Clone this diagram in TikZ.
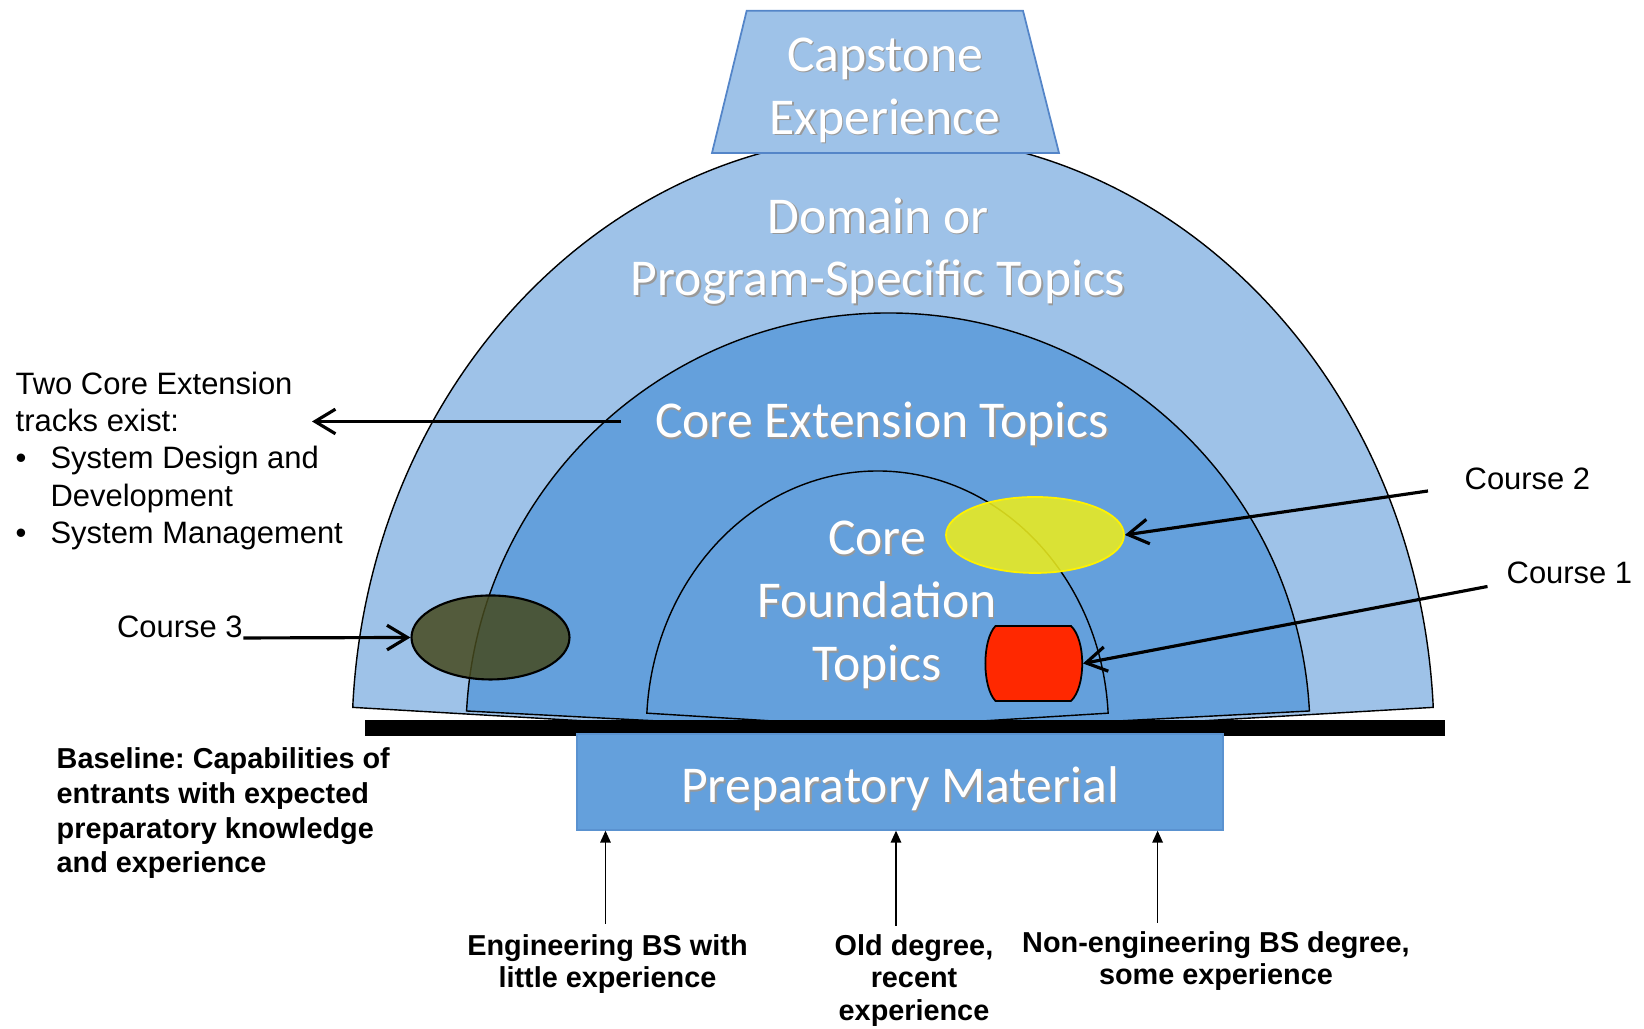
\documentclass[tikz,border=0pt]{standalone}
\usepackage{fontspec}
\setmainfont{Liberation Sans}
\newfontfamily\carlito{Carlito}
\usetikzlibrary{arrows.meta,shapes.geometric}
\frenchspacing

\definecolor{domblue}{HTML}{9EC2E8}
\definecolor{coreblue}{HTML}{64A0DC}
\definecolor{capedge}{HTML}{5485C8}
\definecolor{prepedge}{HTML}{5A92D0}
\definecolor{crsthree}{RGB}{70,74,30}
\definecolor{crstwo}{RGB}{235,236,31}
\definecolor{crsone}{RGB}{255,40,0}

% white label with a soft drop shadow
\newcommand{\txtshadow}[1]{\makebox[0pt][l]{\hspace{0.45pt}\raisebox{-0.45pt}{\textcolor{black!40}{#1}}}#1}

\tikzset{
  topic/.style={text=white, font=\carlito\fontsize{14.7}{17.9}\selectfont, align=center, inner sep=0pt},
  note/.style={font=\fontsize{8.8}{10.6}\selectfont, inner sep=0pt},
  entry/.style={font=\bfseries\fontsize{8.2}{9.2}\selectfont, align=center, inner sep=0pt},
  pointer/.style={-{Straight Barb[length=5.8pt,width=7pt]}, line width=0.9pt},
  feed/.style={-{Triangle[length=3.4pt,width=3pt]}, line width=0.4pt},
  band/.style={draw=black, line width=0.4pt},
}

\begin{document}
\begin{tikzpicture}
\useasboundingbox (0,0) rectangle (16.44,10.29);

% the three sectors
\coordinate (domc) at (8.93,2.90);
\coordinate (extc) at (8.88,2.96);
\coordinate (fndc) at (8.775,3.015);
\filldraw[band, fill=domblue] (domc) -- ++(3:5.41 and 6.04) arc[start angle=3, end angle=177, x radius=5.41, y radius=6.04] -- cycle;
\filldraw[band, fill=coreblue] (extc) -- ++(3:4.22 and 4.20) arc[start angle=3, end angle=177, x radius=4.22, y radius=4.20] -- cycle;
\filldraw[band, fill=coreblue] (fndc) -- ++(3.2:2.31 and 2.565) arc[start angle=3.2, end angle=176.8, x radius=2.31, y radius=2.565] -- cycle;

% courses
\node (crs3) [ellipse, draw=black, line width=0.6pt, fill=crsthree, fill opacity=0.85, minimum width=1.58cm, minimum height=0.84cm, inner sep=0pt] at (4.905,3.915) {};
\node (crs2) [ellipse, draw=yellow, line width=0.5pt, fill=crstwo, fill opacity=0.88, minimum width=1.78cm, minimum height=0.76cm, inner sep=0pt] at (10.35,4.94) {};
\filldraw[fill=crsone, draw=black, line width=0.5pt] (9.955,4.03) -- (10.71,4.03) .. controls (10.86,3.89) and (10.86,3.42) .. (10.71,3.28) -- (9.955,3.28) .. controls (9.82,3.42) and (9.82,3.89) .. (9.955,4.03) -- cycle;
\coordinate (crs1) at (10.83,3.655);

% baseline bar
\fill[black] (3.65,2.93) rectangle (14.45,3.09);

% capstone
\filldraw[fill=domblue, draw=capedge, line width=0.5pt] (7.467,10.183) -- (10.23,10.183) -- (10.59,8.76) -- (7.12,8.76) -- cycle;
\node (capst) [topic] at (8.85,9.38) {\txtshadow{Capstone}\\\txtshadow{Experience}};

% preparatory material
\node (prep) [topic, draw=prepedge, line width=0.4pt, fill=coreblue, minimum width=6.46cm, minimum height=0.96cm, text height=14.8pt, text depth=2.9pt] at (9.0,2.47) {\txtshadow{Preparatory Material}};

\node (domtxt) [topic] at (8.78,7.77) {\txtshadow{Domain or}\\\txtshadow{Program-Specific Topics}};
\node (exttxt) [topic] at (8.82,6.04) {\txtshadow{Core Extension Topics}};
\node (fndtxt) [topic] at (8.77,4.23) {\txtshadow{Core}\\\txtshadow{Foundation}\\\txtshadow{Topics}};

% left notes
\node (tracks) [note, anchor=north west, align=left] at (0.15,6.576) {Two Core Extension\\tracks exist:\\\makebox[1.13em][l]{\textbullet}System Design and\\\hspace*{1.13em}Development\\\makebox[1.13em][l]{\textbullet}System Management};
\node (baseln) [entry, font=\bfseries\fontsize{8.2}{9.9}\selectfont, align=left, anchor=north west] at (0.56,2.82) {Baseline: Capabilities of\\entrants with expected\\preparatory knowledge\\and experience};

\coordinate (exttail) at (6.21,6.075);
\coordinate (exttip) at (3.12,6.075);
\draw[pointer] (exttail) -- (exttip);

\node (crs3lbl) [note, anchor=base east] at (2.433,3.91) {Course 3};
\draw[pointer] (crs3lbl.base east) -- (crs3.west);

\node (crs2lbl) [note, anchor=base west] at (14.64,5.39) {Course 2};
\coordinate (crs2tail) at (14.28,5.38);
\draw[pointer] (crs2tail) -- (crs2.east);

\node (crs1lbl) [note, anchor=base west] at (15.06,4.45) {Course 1};
\coordinate (crs1tail) at (14.875,4.425);
\draw[pointer] (crs1tail) -- (crs1);

% entrants
\node (eng) [entry, anchor=north] at (6.075,0.95) {Engineering BS with\\little experience};
\node (old) [entry, anchor=north] at (9.14,0.95) {Old degree,\\recent\\experience};
\node (noneng) [entry, anchor=north] at (12.16,0.985) {Non-engineering BS degree,\\some experience};

\coordinate (engtail) at (6.055,1.05);
\coordinate (oldtail) at (8.96,1.03);
\coordinate (nontail) at (11.576,1.06);
\draw[feed] (engtail) -- (engtail |- prep.south);
\draw[feed] (oldtail) -- (oldtail |- prep.south);
\draw[feed] (nontail) -- (nontail |- prep.south);
\end{tikzpicture}
\end{document}
